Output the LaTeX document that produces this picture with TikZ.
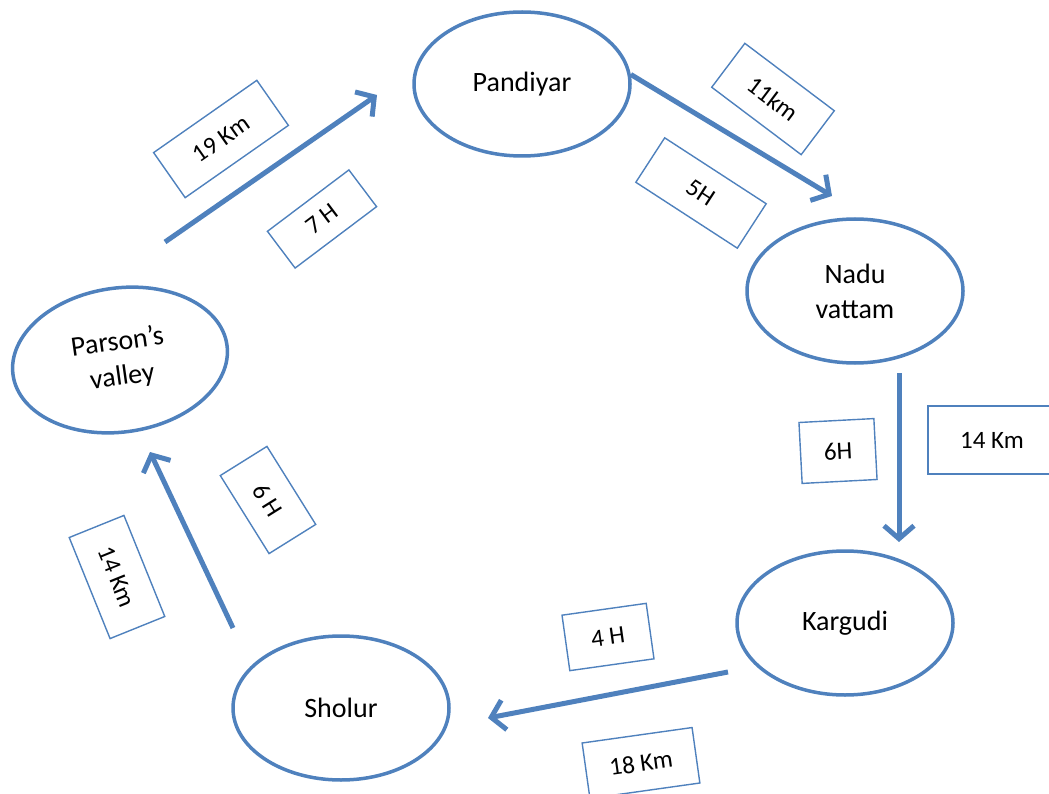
\documentclass[tikz,border=0pt]{standalone}
\usepackage{fontspec}
\setmainfont{Carlito}
\usepackage{tikz}
\usetikzlibrary{positioning}
\usetikzlibrary{shapes}
\usetikzlibrary{arrows.meta}
\definecolor{routeblue}{RGB}{79,129,189}

\begin{document}
\begin{tikzpicture}[x=1pt,y=-1pt,
  place/.style={ellipse,draw=routeblue,line width=3.5pt,minimum width=216pt,minimum height=144pt,inner sep=0pt,align=center,font=\fontsize{28}{35}\selectfont},
  tag/.style={rectangle,draw=routeblue,line width=1.4pt,inner sep=0pt,font=\fontsize{25}{30}\selectfont},
  route/.style={draw=routeblue,line width=5pt,-{Straight Barb[length=13pt,width=30pt]}}]
\useasboundingbox (0,0) rectangle (1049,794);

\node[place] (pandiyar) at (522,84) {Pandiyar};
\node[place] (nadu) at (855,291) {Nadu\\vattam};
\node[place] (kargudi) at (845,623) {Kargudi};
\node[place] (sholur) at (341,708) {Sholur};
\node[place,rotate=8] (parson) at (120,360) {Parson’s\\valley};

\coordinate (parsonout) at (165,242);
\coordinate (pandiyarin) at (377,95);
\coordinate (naduin) at (832,196);
\coordinate (naduout) at (899,373);
\coordinate (kargudiin) at (899,542);
\coordinate (kargudiout) at (728,672);
\coordinate (sholurin) at (488,718);
\coordinate (sholurout) at (233,628);
\coordinate (parsonin) at (150,452);

\draw[route] (parsonout) -- (pandiyarin);
\draw[route] (pandiyar.5) -- (naduin);
\draw[route] (naduout) -- (kargudiin);
\draw[route] (kargudiout) -- (sholurin);
\draw[route] (sholurout) -- (parsonin);

\node[tag,minimum width=126pt,minimum height=55pt,rotate=35] (km19) at (221,139) {19 Km};
\node[tag,minimum width=102pt,minimum height=46pt,rotate=37] (h7) at (322,219) {7 H};
\node[tag,minimum width=112pt,minimum height=55pt,rotate=-37] (km11) at (773,99) {11km};
\node[tag,minimum width=121pt,minimum height=53pt,rotate=-33] (h5) at (701,193) {5H};
\node[tag,minimum width=75pt,minimum height=61pt,rotate=3] (h6a) at (838,451) {6H};
\node[tag,minimum width=128pt,minimum height=68pt] (km14a) at (992,440) {14 Km};
\node[tag,minimum width=85pt,minimum height=56pt,rotate=8] (h4) at (608,637) {4 H};
\node[tag,minimum width=111pt,minimum height=56pt,rotate=8] (km18) at (641,763) {18 Km};
\node[tag,minimum width=92pt,minimum height=55pt,rotate=-58] (h6b) at (268,500) {6 H};
\node[tag,minimum width=109pt,minimum height=59pt,rotate=-68] (km14b) at (117,577) {14 Km};
\end{tikzpicture}
\end{document}
